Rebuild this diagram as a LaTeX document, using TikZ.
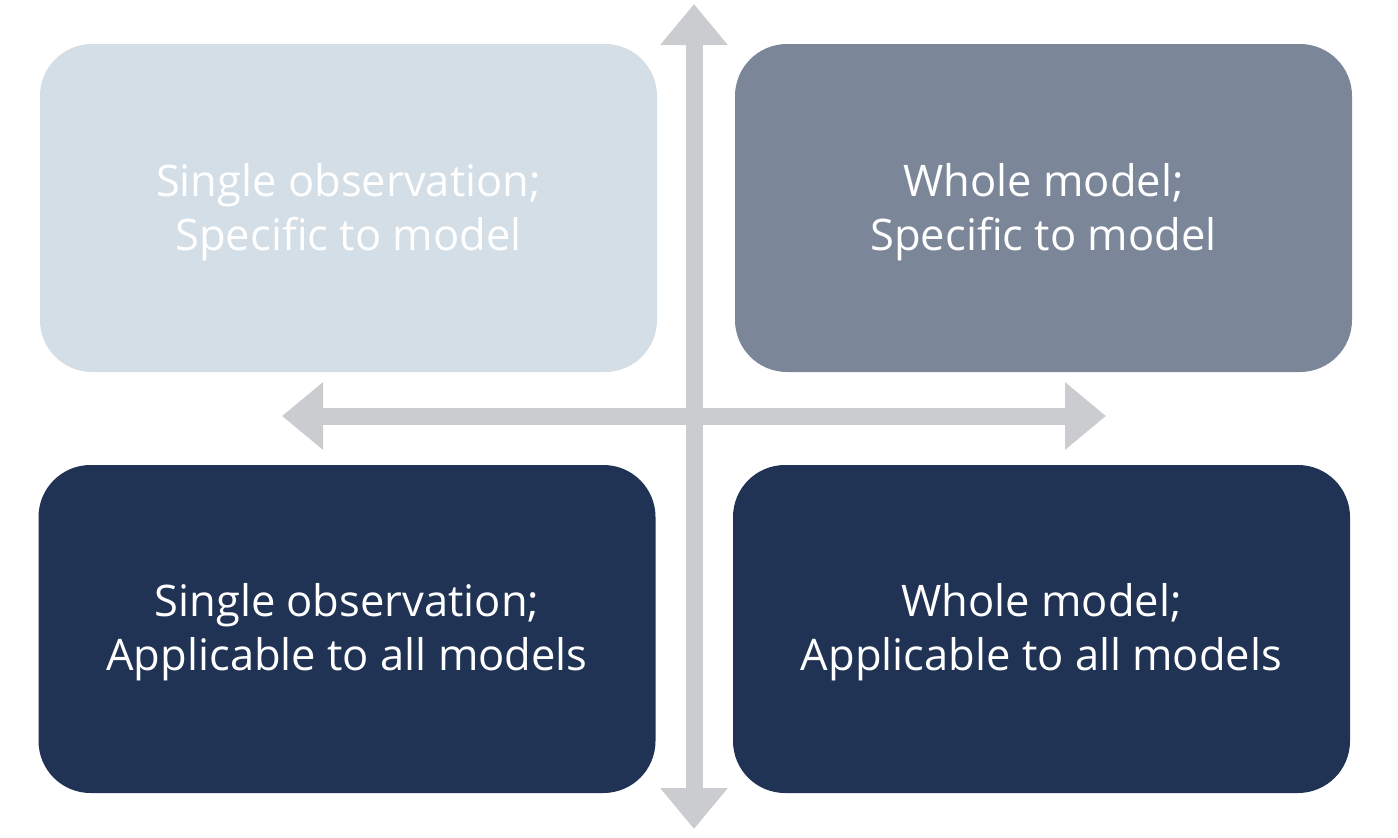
\documentclass[tikz,border=0pt]{standalone}
\usepackage{fontspec}
\setmainfont{Open Sans}
\usetikzlibrary{arrows.meta}
\definecolor{paleblue}{HTML}{D3DEE6}
\definecolor{slateblue}{HTML}{7B8799}
\definecolor{navyblue}{HTML}{203354}
\definecolor{axisgray}{HTML}{CBCCD0}
\tikzset{
  quad/.style={rounded corners=52pt, minimum width=617pt, minimum height=328pt,
    inner sep=0pt},
  quadtext/.style={text=white, align=center, inner sep=0pt,
    font=\fontsize{43.5}{54}\selectfont},
  axis/.style={draw=axisgray, line width=17pt,
    {Triangle[length=41pt,width=65pt]}-{Triangle[length=41pt,width=65pt]}}
}
\begin{document}
\begin{tikzpicture}[x=1pt,y=-1pt]
  \useasboundingbox (0,0) rectangle (1398,838);
  % quadrants
  \node[quad, fill=paleblue]  (tl) at (348.5,208) {};
  \node[quad, fill=slateblue] (tr) at (1043.5,208) {};
  \node[quad, fill=navyblue]  (bl) at (347,629) {};
  \node[quad, fill=navyblue]  (br) at (1041.5,629) {};
  \node[quadtext] (tltext) at ([yshift=-4pt]tl.center) {Single observation;\\Specific to model};
  \node[quadtext] (trtext) at ([yshift=-4pt]tr.center) {Whole model;\\Specific to model};
  \node[quadtext] (bltext) at ([yshift=-3pt]bl.center) {Single observation;\\Applicable to all models};
  \node[quadtext] (brtext) at ([yshift=-3pt]br.center) {Whole model;\\Applicable to all models};
  % axes
  \coordinate (top) at (694,4);
  \coordinate (bottom) at (694,829);
  \coordinate (left) at (282,416);
  \coordinate (right) at (1106,416);
  \draw[axis] (bottom) -- (top);
  \draw[axis] (left) -- (right);
\end{tikzpicture}
\end{document}
